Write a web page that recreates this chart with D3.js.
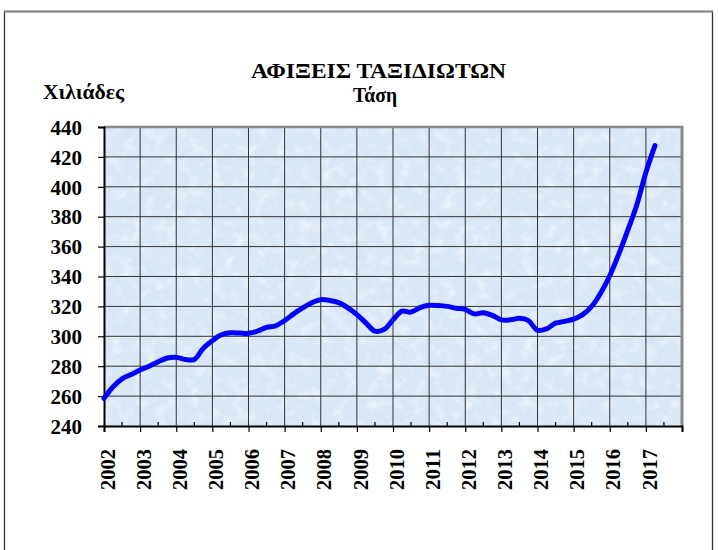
<!DOCTYPE html>
<html>
<head>
<meta charset="utf-8">
<script src="https://cdn.jsdelivr.net/npm/d3@7"></script>
<style>
  body { margin: 0; background: #fff; }
  svg text { font-family: "Liberation Serif", "Times New Roman", "DejaVu Serif Condensed", "DejaVu Serif", serif; font-weight: bold; fill: #000; }
</style>
</head>
<body>
<script>
// trend series, quarterly (thousands)
const dates = [
  2002.00, 2002.25, 2002.50, 2002.75, 2003.00, 2003.25, 2003.50, 2003.75,
  2004.00, 2004.25, 2004.50, 2004.75, 2005.00, 2005.25, 2005.50, 2005.75,
  2006.00, 2006.25, 2006.50, 2006.75, 2007.00, 2007.25, 2007.50, 2007.75,
  2008.00, 2008.25, 2008.50, 2008.75, 2009.00, 2009.25, 2009.50, 2009.75,
  2010.00, 2010.25, 2010.50, 2010.75, 2011.00, 2011.25, 2011.50, 2011.75,
  2012.00, 2012.25, 2012.50, 2012.75, 2013.00, 2013.25, 2013.50, 2013.75,
  2014.00, 2014.25, 2014.50, 2014.75, 2015.00, 2015.25, 2015.50, 2015.75,
  2016.00, 2016.25, 2016.50, 2016.75, 2017.00, 2017.25
]
const values = [
  258.5, 266.3, 271.5, 274.5, 277.5, 280.0, 283.0, 285.5,
  286.0, 284.5, 284.5, 292.0, 297.0, 301.0, 302.3, 302.2,
  302.0, 303.5, 306.0, 307.0, 310.5, 315.0, 319.0, 322.5,
  324.5, 324.0, 322.5, 319.0, 314.5, 309.0, 303.5, 304.5,
  311.0, 316.8, 316.2, 319.2, 320.7, 320.6, 320.0, 318.8,
  318.0, 315.0, 315.8, 314.0, 311.0, 311.0, 312.0, 310.5,
  304.0, 305.0, 308.8, 310.0, 311.5, 314.5, 320.0, 329.0,
  340.5, 355.0, 371.0, 388.0, 409.5, 427.5
]
const yearLabels = ['2002', '2003', '2004', '2005', '2006', '2007', '2008', '2009',
  '2010', '2011', '2012', '2013', '2014', '2015', '2016', '2017']
const yTicks = [240, 260, 280, 300, 320, 340, 360, 380, 400, 420, 440]
const title = 'ΑΦΙΞΕΙΣ ΤΑΞΙΔΙΩΤΩΝ'
const subtitle = 'Τάση'
const unitLabel = 'Χιλιάδες'

const fullWidth = 718
const fullHeight = 550
const plot = { left: 104, right: 682, top: 127, bottom: 426 }
const lineColor = '#0000ff'

const svg = d3.select('body')
  .append('svg')
  .attr('width', fullWidth)
  .attr('height', fullHeight)

// paper texture for the plot area
const defs = svg.append('defs')
const tex = defs.append('filter')
  .attr('id', 'tissue')
  .attr('x', 0).attr('y', 0).attr('width', 1).attr('height', 1)
tex.append('feTurbulence')
  .attr('type', 'fractalNoise')
  .attr('baseFrequency', 0.09)
  .attr('numOctaves', 4)
  .attr('seed', 7)
  .attr('result', 'noise')
tex.append('feColorMatrix')
  .attr('in', 'noise')
  .attr('type', 'matrix')
  .attr('values', '0 0 0 0 1  0 0 0 0 1  0 0 0 0 1  2.0 0 0 0 -0.95')
  .attr('result', 'light')
tex.append('feColorMatrix')
  .attr('in', 'noise')
  .attr('type', 'matrix')
  .attr('values', '0 0 0 0 0.66  0 0 0 0 0.74  0 0 0 0 0.86  0 -1.8 0 0 0.8')
  .attr('result', 'dark')
const merge = tex.append('feMerge')
merge.append('feMergeNode').attr('in', 'dark')
merge.append('feMergeNode').attr('in', 'light')

// outer frame
svg.append('rect')
  .attr('x', 4.5).attr('y', 11.5)
  .attr('width', 708).attr('height', 560)
  .attr('fill', 'none')
  .attr('stroke', '#333')
  .attr('stroke-width', 1.3)
svg.append('line')
  .attr('x1', 4).attr('x2', 713).attr('y1', 11.5).attr('y2', 11.5)
  .attr('stroke', '#888').attr('stroke-width', 2)

const x = d3.scaleLinear()
  .domain([2002, 2018])
  .range([plot.left, plot.right])

const y = d3.scaleLinear()
  .domain([240, 440])
  .range([plot.bottom, plot.top])

const g = svg.append('g')

g.append('rect')
  .attr('x', plot.left).attr('y', plot.top)
  .attr('width', plot.right - plot.left)
  .attr('height', plot.bottom - plot.top)
  .attr('fill', '#d9e7f6')
g.append('rect')
  .attr('x', plot.left).attr('y', plot.top)
  .attr('width', plot.right - plot.left)
  .attr('height', plot.bottom - plot.top)
  .attr('fill', '#fff')
  .attr('filter', 'url(#tissue)')
  .attr('opacity', 0.7)

// gridlines
const years = d3.range(2002, 2019)
g.append('g')
  .selectAll('line')
  .data(years.slice(1, -1))
  .enter().append('line')
  .attr('x1', d => x(d)).attr('x2', d => x(d))
  .attr('y1', plot.top).attr('y2', plot.bottom)
  .attr('stroke', '#333').attr('stroke-width', 1)
g.append('g')
  .selectAll('line')
  .data(yTicks.slice(1, -1))
  .enter().append('line')
  .attr('x1', plot.left).attr('x2', plot.right)
  .attr('y1', d => y(d)).attr('y2', d => y(d))
  .attr('stroke', '#333').attr('stroke-width', 1)

// plot border top/right (grey), axes left/bottom (black)
g.append('line')
  .attr('x1', plot.left).attr('x2', plot.right + 1.5)
  .attr('y1', plot.top).attr('y2', plot.top)
  .attr('stroke', '#888').attr('stroke-width', 2.5)
g.append('line')
  .attr('x1', plot.right).attr('x2', plot.right)
  .attr('y1', plot.top).attr('y2', plot.bottom)
  .attr('stroke', '#888').attr('stroke-width', 3)

// y axis
const yAxis = d3.axisLeft(y)
  .tickValues(yTicks)
  .tickSize(6)
  .tickPadding(16)
g.append('g')
  .attr('transform', `translate(${plot.left},0)`)
  .call(yAxis)
  .attr('font-family', null)
  .call(a => a.select('.domain').attr('stroke', '#000').attr('stroke-width', 2))
  .call(a => a.selectAll('.tick line').attr('stroke', '#000').attr('stroke-width', 1.2))
  .call(a => a.selectAll('.tick text')
    .attr('font-size', 20)
    .attr('textLength', 31.5)
    .attr('lengthAdjust', 'spacingAndGlyphs')
    .attr('dy', '0.36em'))

// x axis: year ticks outside, half-year ticks inside
const xAxis = d3.axisBottom(x)
  .tickValues(years)
  .tickSize(6)
  .tickFormat('')
g.append('g')
  .attr('transform', `translate(0,${plot.bottom})`)
  .call(xAxis)
  .call(a => a.select('.domain').attr('stroke', '#000').attr('stroke-width', 2))
  .call(a => a.selectAll('.tick line').attr('stroke', '#000').attr('stroke-width', 1.2))

g.append('g')
  .selectAll('line')
  .data(years.slice(0, -1).map(d => d + 0.5))
  .enter().append('line')
  .attr('x1', d => x(d)).attr('x2', d => x(d))
  .attr('y1', plot.bottom - 4).attr('y2', plot.bottom)
  .attr('stroke', '#000').attr('stroke-width', 1.2)

g.append('g')
  .selectAll('text')
  .data(yearLabels)
  .enter().append('text')
  .attr('transform', d => `translate(${x(+d) + 3.5},449) rotate(-90)`)
  .attr('text-anchor', 'end')
  .attr('dy', '0.36em')
  .attr('font-size', 20)
  .attr('textLength', 41)
  .attr('lengthAdjust', 'spacingAndGlyphs')
  .text(d => d)

// trend line
const line = d3.line()
  .x(d => x(d[0]))
  .y(d => y(d[1]))
  .curve(d3.curveCatmullRom.alpha(0.5))

g.append('path')
  .datum(d3.zip(dates, values))
  .attr('fill', 'none')
  .attr('stroke', lineColor)
  .attr('stroke-width', 5)
  .attr('stroke-linecap', 'round')
  .attr('stroke-linejoin', 'round')
  .attr('d', line)

// titles
svg.append('text')
  .attr('x', 251).attr('y', 78)
  .attr('font-size', 20)
  .attr('textLength', 255)
  .attr('lengthAdjust', 'spacingAndGlyphs')
  .text(title)
svg.append('text')
  .attr('x', 353).attr('y', 102)
  .attr('font-size', 20)
  .attr('textLength', 44)
  .attr('lengthAdjust', 'spacingAndGlyphs')
  .text(subtitle)
svg.append('text')
  .attr('x', 43).attr('y', 99)
  .attr('font-size', 20)
  .attr('textLength', 81)
  .attr('lengthAdjust', 'spacingAndGlyphs')
  .text(unitLabel)
</script>
</body>
</html>
